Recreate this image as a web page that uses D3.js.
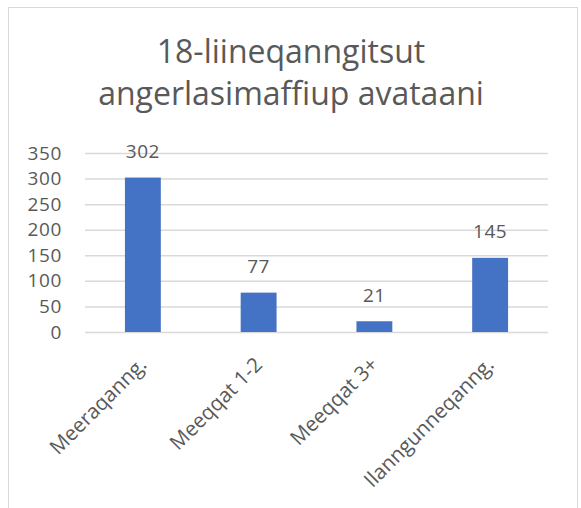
<!DOCTYPE html>
<html>
<head>
<meta charset="utf-8">
<script src="https://cdn.jsdelivr.net/npm/d3@7"></script>
<style>
  body { margin: 0; background: #fff; }
  svg { display: block; font-family: "Open Sans", sans-serif; }
</style>
</head>
<body>
<div id="chart"></div>
<script>
	const categories = ["Meeraqanng.", "Meeqqat 1-2", "Meeqqat 3+", "Ilanngunneqanng."];
	const values = [302, 77, 21, 145];
	const yTicks = [0, 50, 100, 150, 200, 250, 300, 350];
	const titleLines = ["18-liineqanngitsut", "angerlasimaffiup avataani"];

	const width = 581, height = 508;
	const plot = {left: 85, right: 548, top: 153, bottom: 332};
	const textColor = "#595959", gridColor = "#d9d9d9", barColor = "#4472c4";

	const svg = d3.select("#chart").append("svg")
		.attr("width", width)
		.attr("height", height);

	// chart frame (bottom edge is off the picture)
	svg.append("rect")
		.attr("x", 8.5).attr("y", 7.5)
		.attr("width", 569).attr("height", 520)
		.attr("fill", "none")
		.attr("stroke", gridColor);

	/*============= title ===============*/
	svg.append("text")
		.attr("text-anchor", "middle")
		.attr("fill", textColor)
		.style("font-size", "32px")
		.selectAll("tspan")
		.data(titleLines)
		.enter()
		.append("tspan")
		.attr("x", 291)
		.attr("y", (d, i) => 63 + i * 42)
		.text(d => d);

	/*============= scales ===============*/
	const x = d3.scaleBand()
		.domain(categories)
		.range([plot.left, plot.right])
		.paddingInner(0.69)
		.paddingOuter(0.345);

	const y = d3.scaleLinear()
		.domain([0, 350])
		.range([plot.bottom, plot.top]);

	/*============= axes ===============*/
	const yAxis = d3.axisLeft(y)
		.tickValues(yTicks)
		.tickSize(-(plot.right - plot.left))
		.tickPadding(23);

	svg.append("g")
		.attr("transform", `translate(${plot.left},0)`)
		.call(yAxis)
		.attr("font-family", null)
		.attr("font-size", null)
		.call(g => g.select(".domain").remove())
		.call(g => g.selectAll(".tick line").attr("stroke", gridColor).attr("stroke-width", 1.5))
		.call(g => g.selectAll(".tick text")
			.attr("fill", textColor)
			.style("font-size", "19px")
			.style("letter-spacing", "0.6px"));

	const xAxis = d3.axisBottom(x).tickSize(0).tickPadding(0);

	svg.append("g")
		.attr("transform", `translate(0,${plot.bottom})`)
		.call(xAxis)
		.attr("font-family", null)
		.attr("font-size", null)
		.call(g => g.select(".domain").remove())
		.call(g => g.selectAll(".tick text")
			.attr("fill", textColor)
			.style("font-size", "20.5px")
			.attr("text-anchor", "end")
			.attr("y", 0)
			.attr("dy", 0)
			.attr("transform", "translate(5,34) rotate(-45)"));

	/*============= bars ===============*/
	svg.append("g")
		.selectAll("rect")
		.data(values)
		.enter()
		.append("rect")
		.attr("x", (d, i) => x(categories[i]))
		.attr("y", d => y(d))
		.attr("width", x.bandwidth())
		.attr("height", d => y(0) - y(d))
		.attr("fill", barColor);

	svg.append("g")
		.selectAll("text")
		.data(values)
		.enter()
		.append("text")
		.attr("x", (d, i) => x(categories[i]) + x.bandwidth() / 2)
		.attr("y", d => y(d) - 19.5)
		.attr("text-anchor", "middle")
		.attr("fill", textColor)
		.style("font-size", "19px")
		.style("letter-spacing", "0.6px")
		.text(d => d);
</script>
</body>
</html>
